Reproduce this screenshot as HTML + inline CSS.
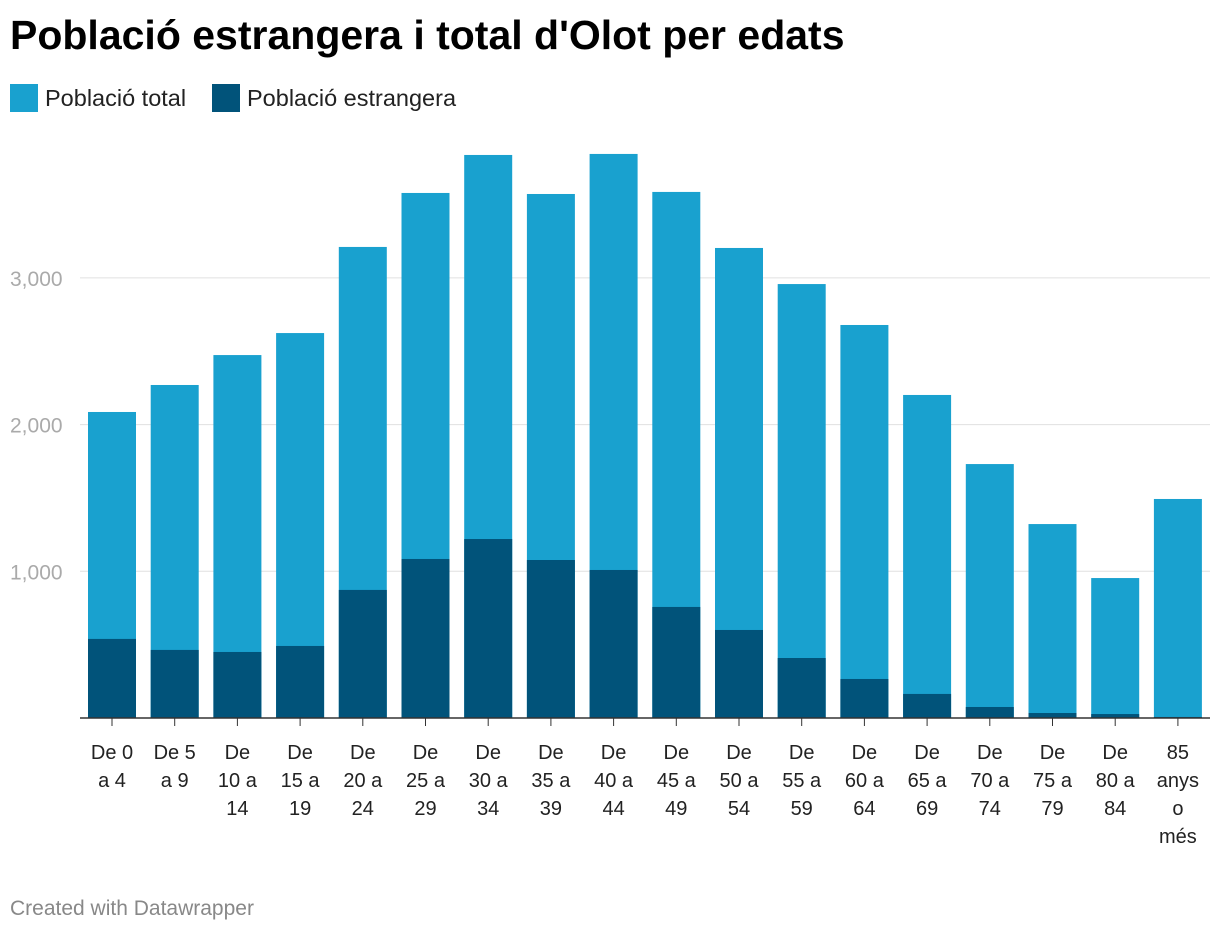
<!DOCTYPE html>
<html><head><meta charset="utf-8"><style>
body{margin:0;background:#fff;font-family:"Liberation Sans",sans-serif;width:1220px;height:934px;overflow:hidden;position:relative}
.t{position:absolute;left:10px;top:12px;font-size:41px;font-weight:bold;color:#000;letter-spacing:0}
.lg{position:absolute;top:84px;font-size:23.5px;color:#222;display:flex;align-items:center}
.sw{width:28px;height:28px;margin-right:7px;display:inline-block}
.ft{position:absolute;left:10px;top:897px;font-size:21px;color:#888}
</style></head><body>
<div class="t">Població estrangera i total d'Olot per edats</div>
<div class="lg" style="left:10px"><span class="sw" style="background:#19a1cf"></span>Població total</div>
<div class="lg" style="left:212px"><span class="sw" style="background:#01537a"></span>Població estrangera</div>
<svg id="c" width="1220" height="934" style="position:absolute;left:0;top:0"></svg>
<div class="ft">Created with Datawrapper</div>
<script>
const categories=[["De 0","a 4"],["De 5","a 9"],["De","10 a","14"],["De","15 a","19"],["De","20 a","24"],["De","25 a","29"],["De","30 a","34"],["De","35 a","39"],["De","40 a","44"],["De","45 a","49"],["De","50 a","54"],["De","55 a","59"],["De","60 a","64"],["De","65 a","69"],["De","70 a","74"],["De","75 a","79"],["De","80 a","84"],["85","anys","o","més"]];
const totalValues=[2086,2270,2474,2624,3211,3579,3838,3572,3845,3586,3204,2958,2679,2202,1731,1322,954,1493];
const foreignValues=[539,464,450,491,873,1084,1220,1077,1009,757,600,409,266,164,75,34,27,7];
const yTicks=[1000,2000,3000];
const yTickLabels=["1,000","2,000","3,000"];
const svg=document.getElementById('c');const NS="http://www.w3.org/2000/svg";
function y(v){return 718-v*0.1467;}
function x(i){return 112+i*62.7;}
function mk(t,a,p){const e=document.createElementNS(NS,t);for(const k in a)e.setAttribute(k,a[k]);(p||svg).appendChild(e);return e;}
yTicks.forEach((v,i)=>{
 const l=mk('line',{x1:80,x2:1210,y1:y(v),y2:y(v),stroke:'#e0e0e0','stroke-width':1});
 
 
 const t=mk('text',{x:10,y:y(v)+8,'font-size':21,fill:'#aaa','font-family':'Liberation Sans'});t.textContent=yTickLabels[i];
 
 
});
categories.forEach((c,i)=>{
 const b=mk('rect',{x:x(i)-24,y:y(totalValues[i]),width:48,height:718-y(totalValues[i]),fill:'#19a1cf'});
 
 
 const f=mk('rect',{x:x(i)-24,y:y(foreignValues[i]),width:48,height:718-y(foreignValues[i]),fill:'#01537a'});
 
 
 mk('line',{x1:x(i),x2:x(i),y1:718,y2:726,stroke:'#333','stroke-width':1});
 const t=mk('text',{'font-size':20,fill:'#222','text-anchor':'middle','font-family':'Liberation Sans'});
 
 
 c.forEach((s,j)=>{const ts=mk('tspan',{x:x(i),y:759+j*28},t);ts.textContent=s;});
});
const ax=mk('line',{x1:80,x2:1210,y1:718,y2:718,stroke:'#333','stroke-width':1.5});


</script>
</body></html>
